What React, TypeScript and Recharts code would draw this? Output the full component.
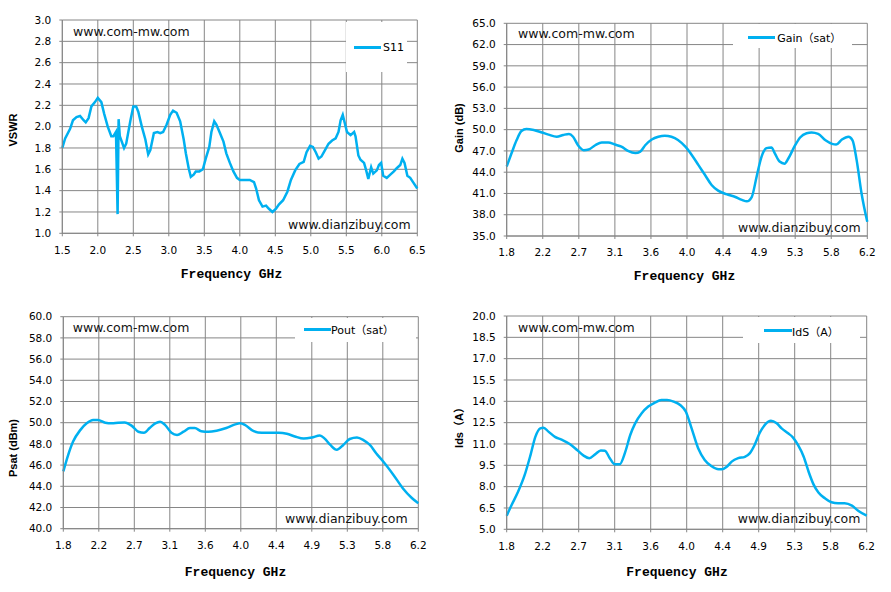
import React from "react";
import { LineChart, Line, XAxis, YAxis, CartesianGrid, Legend } from "recharts";

const LINE = "#00B0F0";
const GRID = "#868686";

// S11 sweep (VSWR)
const vswrFreq = [
  1.5, 1.54, 1.61, 1.65, 1.7, 1.75, 1.8, 1.83, 1.87, 1.91,
  1.96, 2.0, 2.05, 2.09, 2.14, 2.19, 2.22, 2.256, 2.279, 2.293,
  2.31, 2.37, 2.4, 2.46, 2.5, 2.54, 2.57, 2.62, 2.67, 2.71,
  2.74, 2.79, 2.84, 2.88, 2.92, 2.97, 3.02, 3.06, 3.11, 3.16,
  3.21, 3.24, 3.28, 3.31, 3.35, 3.38, 3.43, 3.48, 3.52, 3.57,
  3.6, 3.64, 3.67, 3.72, 3.77, 3.81, 3.86, 3.91, 3.96, 4.0,
  4.07, 4.14, 4.2, 4.23, 4.27, 4.32, 4.37, 4.41, 4.46, 4.51,
  4.55, 4.61, 4.67, 4.72, 4.78, 4.84, 4.9, 4.94, 4.99, 5.03,
  5.07, 5.11, 5.15, 5.2, 5.25, 5.3, 5.35, 5.39, 5.42, 5.45,
  5.48, 5.51, 5.56, 5.61, 5.63, 5.67, 5.7, 5.75, 5.78, 5.81,
  5.85, 5.88, 5.93, 5.96, 5.99, 6.02, 6.07, 6.12, 6.17, 6.21,
  6.26, 6.29, 6.32, 6.36, 6.4, 6.44, 6.5,
];
const vswrValues = [
  1.8, 1.89, 1.98, 2.06, 2.09, 2.1, 2.06, 2.04, 2.08, 2.19,
  2.23, 2.27, 2.23, 2.12, 2.0, 1.91, 1.91, 1.95, 1.18, 2.07,
  1.91, 1.8, 1.84, 2.06, 2.19, 2.19, 2.14, 2.0, 1.88, 1.74,
  1.78, 1.94, 1.95, 1.94, 1.95, 2.02, 2.11, 2.15, 2.13, 2.05,
  1.88, 1.75, 1.61, 1.53, 1.55, 1.58, 1.58, 1.6, 1.7, 1.81,
  1.95, 2.05, 2.02, 1.94, 1.86, 1.75, 1.66, 1.58, 1.52, 1.5,
  1.5, 1.5, 1.48, 1.42, 1.31, 1.25, 1.26, 1.23, 1.2, 1.23,
  1.27, 1.31, 1.39, 1.5, 1.59, 1.65, 1.67, 1.76, 1.82, 1.81,
  1.76, 1.7, 1.72, 1.78, 1.84, 1.87, 1.89, 1.95, 2.06, 2.11,
  2.03, 1.95, 1.92, 1.95, 1.91, 1.73, 1.69, 1.66, 1.59, 1.51,
  1.62, 1.56, 1.59, 1.64, 1.66, 1.54, 1.52, 1.55, 1.58, 1.61,
  1.64, 1.7, 1.66, 1.54, 1.52, 1.48, 1.42,
];

// Gain (sat)
const gainFreq = [
  1.8, 1.86, 1.92, 1.98, 2.04, 2.13, 2.23, 2.31, 2.41, 2.49,
  2.56, 2.61, 2.67, 2.74, 2.8, 2.88, 2.96, 3.04, 3.12, 3.2,
  3.28, 3.37, 3.43, 3.49, 3.57, 3.65, 3.73, 3.81, 3.89, 3.98,
  4.06, 4.14, 4.22, 4.3, 4.38, 4.48, 4.59, 4.67, 4.73, 4.79,
  4.85, 4.91, 4.97, 5.03, 5.07, 5.13, 5.19, 5.24, 5.31, 5.38,
  5.46, 5.52, 5.6, 5.69, 5.77, 5.82, 5.89, 5.97, 6.02, 6.07,
  6.13, 6.2,
];
const gainValues = [
  44.8, 46.7, 48.5, 49.8, 50.1, 49.95, 49.6, 49.3, 49.0, 49.25,
  49.4, 49.0, 47.8, 47.1, 47.2, 47.8, 48.2, 48.2, 47.9, 47.6,
  47.0, 46.7, 46.9, 47.8, 48.6, 49.0, 49.15, 49.0, 48.55, 47.6,
  46.4, 45.0, 43.6, 42.2, 41.4, 40.9, 40.5, 40.1, 39.9, 40.5,
  43.4, 46.2, 47.4, 47.5, 46.7, 45.5, 45.2, 46.0, 47.6, 48.9,
  49.5, 49.6, 49.4, 48.5, 48.0, 47.9, 48.6, 49.0, 48.5, 45.7,
  41.0, 37.0,
];

// Pout (sat)
const psatFreq = [
  1.8, 1.86, 1.92, 2.01, 2.09, 2.17, 2.23, 2.32, 2.4, 2.48,
  2.56, 2.65, 2.73, 2.8, 2.87, 2.94, 3.0, 3.06, 3.14, 3.21,
  3.29, 3.37, 3.43, 3.51, 3.6, 3.7, 3.82, 3.93, 3.99, 4.05,
  4.16, 4.26, 4.36, 4.47, 4.57, 4.67, 4.78, 4.88, 4.98, 5.04,
  5.11, 5.19, 5.27, 5.35, 5.44, 5.52, 5.6, 5.68, 5.77, 5.89,
  6.01, 6.12, 6.2,
];
const psatValues = [
  45.4, 46.95, 48.2, 49.3, 49.94, 50.25, 50.25, 50.0, 49.94, 50.0,
  50.03, 49.7, 49.15, 49.05, 49.5, 49.94, 50.1, 49.8, 49.05, 48.84,
  49.15, 49.5, 49.5, 49.2, 49.15, 49.25, 49.5, 49.84, 49.94, 49.8,
  49.2, 49.05, 49.05, 49.05, 48.96, 48.7, 48.5, 48.6, 48.8, 48.5,
  47.9, 47.45, 47.9, 48.46, 48.6, 48.36, 47.9, 47.1, 46.3, 45.1,
  43.8, 42.9, 42.4,
];

// IdS (A)
const idsFreq = [
  1.8, 1.86, 1.94, 2.02, 2.09, 2.15, 2.21, 2.25, 2.31, 2.39,
  2.47, 2.57, 2.66, 2.74, 2.81, 2.88, 2.95, 3.0, 3.06, 3.12,
  3.18, 3.25, 3.31, 3.37, 3.45, 3.53, 3.61, 3.69, 3.76, 3.84,
  3.92, 3.99, 4.06, 4.14, 4.22, 4.3, 4.39, 4.43, 4.49, 4.55,
  4.63, 4.71, 4.77, 4.83, 4.89, 4.96, 5.03, 5.1, 5.16, 5.24,
  5.3, 5.36, 5.43, 5.49, 5.55, 5.61, 5.69, 5.77, 5.85, 5.93,
  6.02, 6.1, 6.2,
];
const idsValues = [
  5.96, 6.71, 7.65, 8.82, 10.2, 11.5, 12.1, 12.15, 11.87, 11.5,
  11.3, 11.0, 10.58, 10.18, 10.0, 10.27, 10.55, 10.53, 10.0, 9.57,
  9.57, 10.46, 11.63, 12.45, 13.16, 13.63, 13.9, 14.09, 14.09, 13.98,
  13.74, 13.27, 12.1, 10.7, 9.88, 9.45, 9.22, 9.22, 9.4, 9.76,
  10.0, 10.1, 10.34, 10.93, 11.75, 12.38, 12.64, 12.45, 12.1, 11.75,
  11.45, 10.93, 10.1, 9.05, 8.16, 7.58, 7.18, 6.9, 6.83, 6.83,
  6.66, 6.29, 5.96,
];

// axis ticks
const vswrXTicks = [1.5, 2.0, 2.5, 3.0, 3.5, 4.0, 4.5, 5.0, 5.5, 6.0, 6.5];
const vswrYTicks = [1.0, 1.2, 1.4, 1.6, 1.8, 2.0, 2.2, 2.4, 2.6, 2.8, 3.0];
const bandXTicks = [1.8, 2.24, 2.68, 3.12, 3.56, 4.0, 4.44, 4.88, 5.32, 5.76, 6.2];
const gainYTicks = [35, 38, 41, 44, 47, 50, 53, 56, 59, 62, 65];
const psatYTicks = [40, 42, 44, 46, 48, 50, 52, 54, 56, 58, 60];
const idsYTicks = [5, 6.5, 8, 9.5, 11, 12.5, 14, 15.5, 17, 18.5, 20];

const toRows = (xs: number[], ys: number[]) => xs.map((f, i) => ({ f, v: ys[i] }));

type LegendBox = { x: number; y: number; w: number; h: number; lineX: number; lineW: number; lineY: number; textX: number };

type PanelProps = {
  left: number;
  top: number;
  width: number;
  height: number;
  margin: { top: number; right: number; bottom: number; left: number };
  rows: { f: number; v: number }[];
  name: string;
  xTicks: number[];
  yTicks: number[];
  curve: "linear" | "monotone";
  yTitle: string;
  yTitleAt: [number, number];
  xTitleAt: [number, number];
  legend: LegendBox;
  topMark: [number, number];
  bottomMark: [number, number];
};

const tickStyle = { fontSize: 10.5, fontFamily: "'DejaVu Sans', sans-serif", fill: "#000" };
const markStyle: React.CSSProperties = {
  position: "absolute",
  font: "12.5px 'DejaVu Sans', sans-serif",
  color: "#111",
  whiteSpace: "nowrap",
  transform: "translateY(-50%)",
  pointerEvents: "none",
};

const Panel = (p: PanelProps) => {
  const fmt = (n: number) => n.toFixed(1);
  const lg = p.legend;
  return (
    <div style={{ position: "absolute", left: p.left, top: p.top, width: p.width, height: p.height }}>
      <LineChart width={p.width} height={p.height} data={p.rows} margin={p.margin}>
        <CartesianGrid stroke={GRID} strokeWidth={1} />
        <XAxis
          dataKey="f"
          type="number"
          domain={[p.xTicks[0], p.xTicks[p.xTicks.length - 1]]}
          ticks={p.xTicks}
          interval={0}
          tickFormatter={fmt}
          height={30}
          tickSize={3}
          tickMargin={10}
          axisLine={{ stroke: GRID }}
          tickLine={{ stroke: GRID }}
          tick={tickStyle}
        />
        <YAxis
          type="number"
          domain={[p.yTicks[0], p.yTicks[p.yTicks.length - 1]]}
          ticks={p.yTicks}
          interval={0}
          tickFormatter={fmt}
          width={50}
          tickSize={3}
          tickMargin={8}
          axisLine={{ stroke: GRID }}
          tickLine={{ stroke: GRID }}
          tick={tickStyle}
        />
        <Legend
          layout="vertical"
          align="center"
          verticalAlign="middle"
          wrapperStyle={{ left: lg.x, top: lg.y, width: lg.w, height: lg.h }}
          content={({ payload }: any) => (
            <div style={{ position: "relative", width: lg.w, height: lg.h, background: "#fff" }}>
              {(payload || []).map((item: any) => (
                <React.Fragment key={String(item.value)}>
                  <span
                    style={{
                      position: "absolute",
                      left: Math.round(lg.lineX),
                      top: Math.round(lg.lineY) - 1,
                      width: Math.round(lg.lineW),
                      height: 3,
                      background: item.color,
                    }}
                  />
                  <span
                    style={{
                      position: "absolute",
                      left: lg.textX,
                      top: lg.lineY,
                      transform: "translateY(-50%)",
                      font: "11px 'DejaVu Sans', 'Noto Sans CJK SC', sans-serif",
                      color: "#000",
                      whiteSpace: "nowrap",
                    }}
                  >
                    {item.value}
                  </span>
                </React.Fragment>
              ))}
            </div>
          )}
        />
        <Line
          type={p.curve}
          dataKey="v"
          name={p.name}
          stroke={LINE}
          strokeWidth={2.5}
          dot={false}
          activeDot={false}
          isAnimationActive={false}
        />
      </LineChart>
      <div style={{ ...markStyle, left: p.topMark[0], top: p.topMark[1] }}>www.com-mw.com</div>
      <div style={{ ...markStyle, left: p.bottomMark[0], top: p.bottomMark[1] }}>www.dianzibuy.com</div>
      <div
        style={{
          position: "absolute",
          left: p.xTitleAt[0],
          top: p.xTitleAt[1],
          transform: "translate(-50%, -50%)",
          font: "bold 13px 'Liberation Mono', monospace",
          whiteSpace: "nowrap",
        }}
      >
        Frequency GHz
      </div>
      <div
        style={{
          position: "absolute",
          left: p.yTitleAt[0],
          top: p.yTitleAt[1],
          transform: "translate(-50%, -50%) rotate(-90deg)",
          font: "bold 11px 'Liberation Sans', 'Noto Sans CJK SC', sans-serif",
          whiteSpace: "nowrap",
        }}
      >
        {p.yTitle}
      </div>
    </div>
  );
};

export default function App() {
  return (
    <div style={{ position: "absolute", left: 0, top: 0, width: 891, height: 592, background: "#fff" }}>
      <Panel
        left={0}
        top={0}
        width={445}
        height={295}
        margin={{ top: 20, right: 27.7, bottom: 31.7, left: 12.3 }}
        rows={toRows(vswrFreq, vswrValues)}
        name="S11"
        xTicks={vswrXTicks}
        yTicks={vswrYTicks}
        curve="linear"
        yTitle="VSWR"
        yTitleAt={[13.3, 130]}
        xTitleAt={[231.5, 274]}
        legend={{ x: 346, y: 22, w: 61, h: 50, lineX: 8, lineW: 27, lineY: 25, textX: 37 }}
        topMark={[73, 30.5]}
        bottomMark={[288, 223.5]}
      />
      <Panel
        left={445}
        top={0}
        width={445}
        height={295}
        margin={{ top: 23.3, right: 22.7, bottom: 29, left: 11.7 }}
        rows={toRows(gainFreq, gainValues)}
        name="Gain（sat）"
        xTicks={bandXTicks}
        yTicks={gainYTicks}
        curve="monotone"
        yTitle="Gain (dB)"
        yTitleAt={[14, 127.5]}
        xTitleAt={[239.5, 276]}
        legend={{ x: 288.3, y: 24, w: 118.4, h: 24, lineX: 15, lineW: 26.7, lineY: 13, textX: 44 }}
        topMark={[73, 32.7]}
        bottomMark={[293, 226.7]}
      />
      <Panel
        left={0}
        top={295}
        width={445}
        height={297}
        margin={{ top: 21.7, right: 26.7, bottom: 33.3, left: 13.3 }}
        rows={toRows(psatFreq, psatValues)}
        name="Pout（sat）"
        xTicks={bandXTicks}
        yTicks={psatYTicks}
        curve="monotone"
        yTitle="Psat (dBm)"
        yTitleAt={[13.3, 153]}
        xTitleAt={[235.5, 277.3]}
        legend={{ x: 295, y: 23.3, w: 121, h: 23.4, lineX: 9, lineW: 26.7, lineY: 11, textX: 36 }}
        topMark={[72.7, 31.7]}
        bottomMark={[285, 223.3]}
      />
      <Panel
        left={445}
        top={295}
        width={445}
        height={297}
        margin={{ top: 21, right: 23.3, bottom: 32.7, left: 11.7 }}
        rows={toRows(idsFreq, idsValues)}
        name="IdS（A）"
        xTicks={bandXTicks}
        yTicks={idsYTicks}
        curve="monotone"
        yTitle="Ids（A）"
        yTitleAt={[13.3, 130]}
        xTitleAt={[232, 277]}
        legend={{ x: 298.3, y: 22.3, w: 117, h: 26, lineX: 20.7, lineW: 27.7, lineY: 13.4, textX: 48.7 }}
        topMark={[73, 31.7]}
        bottomMark={[292.7, 223.3]}
      />
    </div>
  );
}
